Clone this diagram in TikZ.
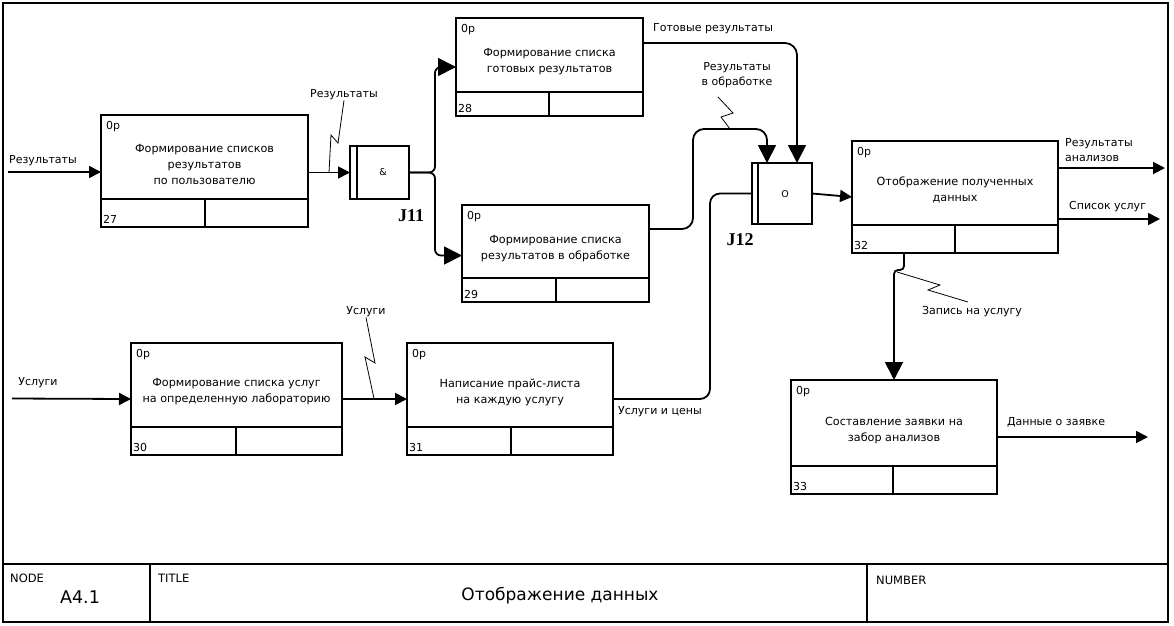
\documentclass[tikz,border=0pt]{standalone}
\usepackage{fontspec}
\setmainfont{DejaVu Sans}
\newfontfamily\jfont{Liberation Serif}
\usetikzlibrary{arrows.meta,calc}
\newcommand{\idefbox}[9]{%
  \node[draw, line width=1.8pt, anchor=north west, inner sep=0pt, outer sep=0pt,
        minimum width={(#4-#2)*1pt}, minimum height={(#5-#3)*1pt}] (#1) at (#2,#3) {};
  \draw[line width=1.8pt] (#2,#6) -- (#4,#6) (#7,#6) -- (#7,#5);
  \node[small, anchor=north west] at ({#2+5},{#3+6}) {0р};
  \node[small, anchor=south west] at ({#2+2},{#5-3}) {#8};
  \node[boxtxt] at ({(#2+#4)/2},{(#3+#6)/2+7}) {#9};
}
\begin{document}
\begin{tikzpicture}[x=1pt,y=-1pt,
  small/.style={font=\fontsize{11}{13}\selectfont, inner sep=0pt},
  lbl/.style={font=\fontsize{11}{15}\selectfont, inner sep=0pt},
  boxtxt/.style={font=\fontsize{11.2}{16}\selectfont, align=center, inner sep=0pt},
  conn/.style={line width=1.8pt, -{Triangle[length=12pt,width=12pt]}},
  bigconn/.style={line width=1.8pt, -{Triangle[length=18pt,width=18pt]}},
  wire/.style={line width=1.8pt},
  squig/.style={line width=0.8pt},
  jbox/.style={draw, line width=1.8pt, inner sep=0pt, outer sep=0pt, anchor=north west},
  jlbl/.style={font=\jfont\bfseries\fontsize{18}{20}\selectfont, inner sep=0pt},
  ttl/.style={font=\fontsize{11.5}{13}\selectfont, inner sep=0pt, anchor=west},
]
\useasboundingbox (0,0) rectangle (1174,625);
\fill[white] (0,0) rectangle (1174,625);
% frame
\draw[line width=1.8pt] (3,3) rectangle (1168,622);
\draw[line width=1.8pt] (3,564) -- (1168,564) (150,564) -- (150,622) (867,564) -- (867,622);
\node[ttl] (nodeh) at (10,578) {NODE};
\node[font=\fontsize{17.5}{20}\selectfont, inner sep=0pt] (nodev) at (80,597) {A4.1};
\node[ttl] (titleh) at (158,578) {TITLE};
\node[font=\fontsize{17}{20}\selectfont, inner sep=0pt] (titlev) at (560,596) {Отображение данных};
\node[ttl] (numh) at (876,580) {NUMBER};

% boxes
\idefbox{b27}{101}{115}{308}{227}{199}{205}{27}{Формирование списков\\результатов\\по пользователю}
\idefbox{b28}{456}{18}{643}{116}{92}{549}{28}{Формирование списка\\готовых результатов}
\idefbox{b29}{462}{205}{649}{302}{278}{556}{29}{Формирование списка\\результатов в обработке}
\idefbox{b30}{131}{343}{342}{455}{427}{236}{30}{Формирование списка услуг\\на определенную лабораторию}
\idefbox{b31}{407}{343}{613}{455}{427}{511}{31}{Написание прайс-листа\\на каждую услугу}
\idefbox{b32}{852}{141}{1058}{253}{225}{955}{32}{Отображение полученных\\данных}
\idefbox{b33}{791}{380}{997}{494}{466}{893}{33}{Составление заявки на\\забор анализов}

% junctions
\node[jbox, minimum width=59pt, minimum height=53pt] (j11) at (350,146) {};
\draw[line width=1.8pt] (357,146) -- (357,199);
\node[font=\fontsize{9.5}{11}\selectfont, inner sep=0pt] at (383,172) {\&};
\node[jlbl] (j11l) at (411,216) {J11};
\node[jbox, minimum width=60pt, minimum height=61pt] (j12) at (752,163) {};
\draw[line width=1.8pt] (758,163) -- (758,224);
\node[font=\fontsize{9.5}{11}\selectfont, inner sep=0pt] at (785,194) {O};
\node[jlbl] (j12l) at (740,240) {J12};

% inputs
\coordinate (in27) at (8,172);
\draw[conn] (in27) -- (b27.west |- in27);
\node[lbl] (l1) at (43,161) {Результаты};
\coordinate (in30) at (12,398.5);
\draw[conn] (in30) -- (b30.west);
\node[lbl] (l2) at (38,383) {Услуги};

% b27 -> j11
\draw[conn] (b27.east |- j11.west) -- (j11.west);
\node[lbl] (l3) at (344,95) {Результаты};
\coordinate (s3) at (329,172.5);
\draw[squig] (l3.south) -- (338,143) -- (331,135) -- (s3);

% j11 branches
\draw[bigconn, rounded corners=6pt] (j11.east) -- ++(26,0) |- (b28.west);
\draw[bigconn, rounded corners=6pt] (j11.east) -- ++(26,0) |- ($(b29.west)+(0,2)$);

% b28 -> j12
\draw[bigconn, rounded corners=12pt] ($(b28.east)+(0,-24)$) -| ($(j12.north)+(15,0)$);
\node[lbl] (l4) at (713,29) {Готовые результаты};
% b29 -> j12
\draw[bigconn, rounded corners=11pt] ($(b29.east)+(0,-24.5)$) -| (693,129) -| ($(j12.north)+(-15,0)$);
\node[lbl, align=center] (l5) at (737,75) {Результаты\\в обработке};
\coordinate (s5) at (730,129);
\draw[squig] (718,97) -- (733,113) -- (721,117) -- (s5);
% b31 -> j12
\draw[wire, rounded corners=10pt] (b31.east) -| (710,193.5) -- (j12.west);
\node[lbl, anchor=west] (l6) at (618,412) {Услуги и цены};

% b30 -> b31
\draw[conn] (b30.east) -- (b31.west);
\node[lbl] (l7) at (366,312) {Услуги};
\coordinate (s7) at (374,398.5);
\draw[squig] (l7.south) -- (375,363) -- (365,357) -- (s7);

% j12 -> b32
\draw[conn] (j12.east) -- (b32.west);

% b32 outputs
\coordinate (out1) at (1165,168);
\draw[conn] (b32.east |- out1) -- (out1);
\node[lbl, anchor=west, align=left] (l8) at (1065,150) {Результаты\\анализов};
\coordinate (out2) at (1160,219);
\draw[conn] (b32.east |- out2) -- (out2);
\node[lbl, anchor=west] (l9) at (1069,207) {Список услуг};

% b32 -> b33
\draw[bigconn, rounded corners=4pt] ($(b32.south)+(-51,0)$) -- ++(0,17) -| (b33.north);
\node[lbl] (l10) at (972,312) {Запись на услугу};
\coordinate (s10) at (897,272);
\draw[squig] (s10) -- (940,285) -- (928,290) -- (968,302);

% b33 output
\coordinate (out3) at (1148,437);
\draw[conn] (b33.east) -- (out3);
\node[lbl] (l11) at (1056,422) {Данные о заявке};
\end{tikzpicture}
\end{document}
